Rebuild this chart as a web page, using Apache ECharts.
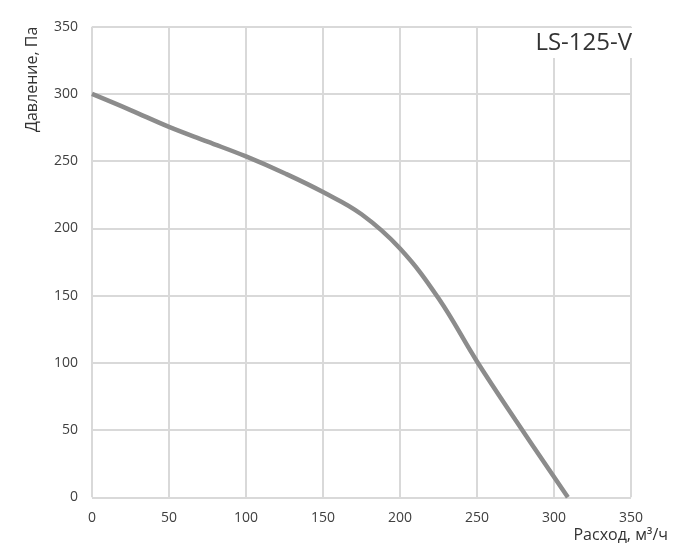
<!DOCTYPE html>
<html><head><meta charset="utf-8">
<script src="https://cdn.jsdelivr.net/npm/echarts@6/dist/echarts.min.js"></script>
<style>html,body{margin:0;padding:0;background:#fff}#c{width:700px;height:560px}</style>
</head><body><div id="c"></div>
<script>
const flow = [0, 25, 50, 75, 100, 125, 150, 175, 200, 225, 250, 275, 309];
const pressure = [300, 288, 275.5, 264.5, 253.5, 241, 227, 210.5, 185, 148, 101, 57.5, 0];
const titleText = 'LS-125-V';
const xName = 'Расход, м³/ч';
const yName = 'Давление, Па';
const font = '"Open Sans", "Noto Sans", sans-serif';
const chart = echarts.init(document.getElementById('c'));
chart.setOption({
  animation: false,
  title: {text: titleText, right: 66, top: 28, backgroundColor: '#fff', padding: [3, 2, 3, 6],
    textStyle: {fontFamily: font, fontSize: 24, fontWeight: 'normal', color: '#333'}},
  grid: {left: 92, right: 69, top: 26.7, bottom: 62.7, containLabel: false},
  xAxis: {type: 'value', min: 0, max: 350, interval: 50,
    name: xName, nameLocation: 'end', nameGap: 0,
    nameTextStyle: {fontFamily: font, fontSize: 16, color: '#333', align: 'right', verticalAlign: 'top', padding: [30, -37, 0, 0]},
    axisLine: {show: false}, axisTick: {show: false},
    axisLabel: {fontFamily: font, fontSize: 14, color: '#404040', margin: 14},
    splitLine: {show: true, lineStyle: {color: '#d9d9d9', width: 2}}},
  yAxis: {type: 'value', min: 0, max: 350, interval: 50,
    name: yName, nameLocation: 'end', nameRotate: 90, nameGap: 0,
    nameTextStyle: {fontFamily: font, fontSize: 16, color: '#333', align: 'right', verticalAlign: 'bottom', padding: [0, 0, 52, 0]},
    axisLine: {show: false}, axisTick: {show: false},
    axisLabel: {fontFamily: font, fontSize: 14, color: '#404040', margin: 14},
    splitLine: {show: true, lineStyle: {color: '#d9d9d9', width: 2}}},
  series: [{type: 'line', smooth: 0.4, symbol: 'none', z: 1,
    data: flow.map((f, i) => [f, pressure[i]]),
    lineStyle: {color: '#8c8c8c', width: 4.5}}]
});
</script></body></html>
